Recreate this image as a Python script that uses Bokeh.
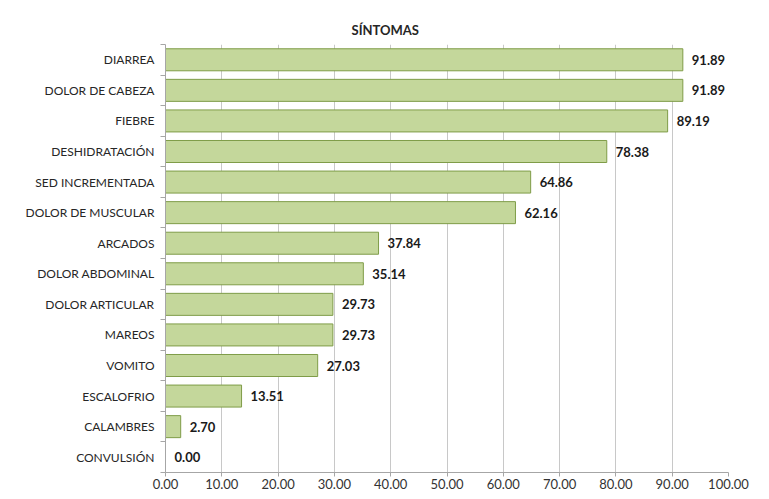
from bokeh.plotting import figure
from bokeh.models import ColumnDataSource, FixedTicker, NumeralTickFormatter, LabelSet
from bokeh.core.properties import value
from bokeh.embed import file_html
from bokeh.resources import INLINE

title_text = "SÍNTOMAS"
categories = ["DIARREA", "DOLOR DE CABEZA", "FIEBRE", "DESHIDRATACIÓN", "SED INCREMENTADA",
              "DOLOR DE MUSCULAR", "ARCADOS", "DOLOR ABDOMINAL", "DOLOR ARTICULAR", "MAREOS",
              "VOMITO", "ESCALOFRIO", "CALAMBRES", "CONVULSIÓN"]
values = [91.89, 91.89, 89.19, 78.38, 64.86, 62.16, 37.84, 35.14, 29.73, 29.73, 27.03, 13.51, 2.70, 0.00]
x_ticks = [0, 10, 20, 30, 40, 50, 60, 70, 80, 90, 100]

n = len(categories)
ypos = [n - i - 0.5 for i in range(n)]
src = ColumnDataSource(dict(y=ypos, v=values, lab=[f"{v:.2f}" for v in values]))

FONT = "Lato"
p = figure(width=753, height=492, output_backend="svg", toolbar_location=None,
           x_range=(0, 100), y_range=(0, n),
           min_border_left=165, min_border_right=25, min_border_top=44, min_border_bottom=20,
           title=title_text)
p.title.align = "left"
p.title.vertical_align = "top"
p.title.offset = 186
p.title.standoff = 10
p.title.text_font = FONT
p.title.text_font_size = "13px"
p.title.text_font_style = "bold"
p.title.text_color = "#262626"
p.outline_line_color = None

p.hbar(y="y", right="v", left=0, height=0.72, source=src,
       fill_color="#c4d79b", line_color="#7f9c48", line_width=1)

labels = LabelSet(x="v", y="y", text="lab", source=src, x_offset=9,
                  text_baseline="middle", text_font=value(FONT), text_font_size="13px",
                  text_font_style="bold", text_color="#1a1a1a")
p.add_layout(labels)

p.xaxis.ticker = FixedTicker(ticks=x_ticks)
p.xaxis.formatter = NumeralTickFormatter(format="0.00")
p.xaxis.major_label_text_font = FONT
p.xaxis.major_label_text_font_size = "13px"
p.xaxis.major_label_text_color = "#333333"
p.xaxis.axis_line_color = "#a6a6a6"
p.xaxis.major_tick_line_color = "#a6a6a6"
p.xaxis.major_tick_out = 4
p.xaxis.major_tick_in = 0
p.xaxis.minor_tick_line_color = None
p.xaxis.major_label_standoff = 2

p.yaxis.ticker = FixedTicker(ticks=ypos, minor_ticks=list(range(n + 1)))
p.yaxis.major_label_overrides = {y: c for y, c in zip(ypos, categories)}
p.yaxis.major_label_text_font = FONT
p.yaxis.major_label_text_font_size = "12px"
p.yaxis.major_label_text_color = "#262626"
p.yaxis.axis_line_color = "#a6a6a6"
p.yaxis.major_tick_line_color = None
p.yaxis.minor_tick_line_color = "#a6a6a6"
p.yaxis.minor_tick_out = 5
p.yaxis.minor_tick_in = 0
p.yaxis.major_label_standoff = 5

p.xgrid.ticker = FixedTicker(ticks=x_ticks)
p.xgrid.grid_line_color = "#c8c8c8"
p.ygrid.grid_line_color = None

open("out.html", "w").write(file_html(p, INLINE))
